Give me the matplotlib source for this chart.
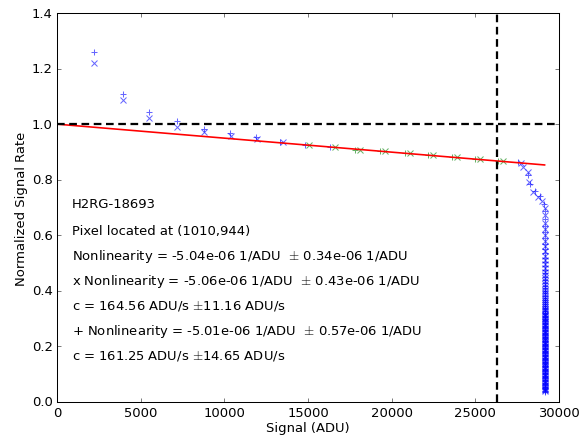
import matplotlib
matplotlib.use("Agg")
import matplotlib.pyplot as plt

plt.style.use("classic")
plt.rcParams["lines.scale_dashes"] = False

# Pixel ramp: "x" series (signal in ADU, normalized signal rate)
x_signal = [2211, 3927, 5517, 7155, 8785, 10381, 11970, 13488, 15078, 16614,
            18108, 19602, 21096, 22453, 23887, 25279, 26672, 27729, 27878,
            28147, 28207, 28446, 28745, 28984]
x_rate = [1.219, 1.088, 1.022, 0.988, 0.973, 0.958, 0.946, 0.935, 0.926, 0.917,
          0.908, 0.902, 0.896, 0.890, 0.881, 0.874, 0.866, 0.860, 0.845,
          0.828, 0.792, 0.756, 0.738, 0.723]

# "+" series
p_signal = [2211, 3927, 5517, 7155, 8785, 10341, 11893, 13327, 14821, 16315,
            17809, 19303, 20797, 22190, 23588, 24980, 26373, 27532, 28147,
            28267, 28566, 28865, 29104]
p_rate = [1.258, 1.108, 1.042, 1.010, 0.982, 0.967, 0.952, 0.936, 0.926, 0.917,
          0.908, 0.902, 0.896, 0.890, 0.881, 0.874, 0.866, 0.862, 0.818,
          0.785, 0.759, 0.741, 0.714]

# Saturated reads: signal stays at the full-well level while the rate falls
sat_signal = 29140
x_sat_rate = [0.700, 0.672, 0.646, 0.622, 0.600, 0.580, 0.561, 0.543, 0.526,
              0.511, 0.496, 0.482, 0.469, 0.457, 0.445, 0.434, 0.424, 0.414,
              0.404, 0.395, 0.387, 0.379, 0.371, 0.363, 0.356, 0.349, 0.343,
              0.336, 0.330, 0.324, 0.318, 0.313, 0.308, 0.302, 0.297, 0.292,
              0.287, 0.282, 0.277, 0.272, 0.267, 0.262, 0.257, 0.252, 0.247,
              0.242, 0.237, 0.232, 0.227, 0.222, 0.217, 0.212, 0.207, 0.202,
              0.197, 0.192, 0.187, 0.182, 0.177, 0.172, 0.167, 0.162, 0.157,
              0.152, 0.147, 0.142, 0.137, 0.132, 0.127, 0.122, 0.117, 0.112,
              0.107, 0.102, 0.097, 0.092, 0.087, 0.082, 0.077, 0.072, 0.067,
              0.062, 0.057, 0.052, 0.047, 0.042, 0.038]
p_sat_rate = [0.686, 0.659, 0.634, 0.611, 0.590, 0.570, 0.552, 0.535, 0.519,
              0.503, 0.489, 0.476, 0.463, 0.451, 0.440, 0.429, 0.419, 0.409,
              0.400, 0.391, 0.383, 0.375, 0.367, 0.360, 0.353, 0.346, 0.340,
              0.333, 0.327, 0.321, 0.316, 0.310, 0.305, 0.300, 0.295, 0.290,
              0.285, 0.280, 0.275, 0.270, 0.265, 0.260, 0.255, 0.250, 0.245,
              0.240, 0.235, 0.230, 0.225, 0.220, 0.215, 0.210, 0.205, 0.200,
              0.195, 0.190, 0.185, 0.180, 0.175, 0.170, 0.165, 0.160, 0.155,
              0.150, 0.145, 0.140, 0.135, 0.130, 0.125, 0.120, 0.115, 0.110,
              0.105, 0.100, 0.095, 0.090, 0.085, 0.080, 0.075, 0.070, 0.065,
              0.060, 0.055, 0.050, 0.045, 0.040, 0.036]

# Reads used in the linearity fit (index ranges into the ramp lists)
x_fit = (8, 17)
p_fit = (10, 17)

nonlinearity = -5.04e-06
fit_end_signal = 29140
saturation_limit = 26313

label_lines = [
    "H2RG-18693",
    "Pixel located at (1010,944)",
    "Nonlinearity = -5.04e-06 1/ADU  $\\pm$ 0.34e-06 1/ADU",
    "x Nonlinearity = -5.06e-06 1/ADU  $\\pm$ 0.43e-06 1/ADU",
    "c = 164.56 ADU/s $\\pm$11.16 ADU/s",
    "+ Nonlinearity = -5.01e-06 1/ADU  $\\pm$ 0.57e-06 1/ADU",
    "c = 161.25 ADU/s $\\pm$14.65 ADU/s",
]
label_y = [0.716, 0.619, 0.529, 0.439, 0.349, 0.259, 0.169]

fs = 12.8

fig = plt.figure(figsize=(8, 442 / 73.5), dpi=73.5, facecolor="white")
ax = fig.add_axes([57 / 588, 39 / 442, 502 / 588, 389 / 442])

blue = "b"
green = (0.0, 0.5, 0.0)
alpha = 0.6
ms = 6.5


def split(sig, rate, fit):
    a, b = fit
    inside = (sig[a:b], rate[a:b])
    outside = (sig[:a] + sig[b:], rate[:a] + rate[b:])
    return inside, outside


(xi, xo) = split(x_signal, x_rate, x_fit)
(pi, po) = split(p_signal, p_rate, p_fit)

ax.plot(xo[0] + [sat_signal] * len(x_sat_rate), xo[1] + x_sat_rate,
        linestyle="none", marker="x", ms=ms, color=blue, alpha=alpha, mew=1)
ax.plot(po[0] + [sat_signal] * len(p_sat_rate), po[1] + p_sat_rate,
        linestyle="none", marker="+", ms=ms, color=blue, alpha=alpha, mew=1)
ax.plot(xi[0], xi[1], linestyle="none", marker="x", ms=ms, color=green,
        alpha=alpha, mew=1)
ax.plot(pi[0], pi[1], linestyle="none", marker="+", ms=ms, color=green,
        alpha=alpha, mew=1)

ax.plot([0, fit_end_signal], [1.0, 1.0 + nonlinearity * fit_end_signal],
        color="r", lw=1.6)

ax.axhline(1.0, color="k", lw=2.2, ls="--", dashes=(7.5, 4.5))
ax.axvline(saturation_limit, color="k", lw=2.2, ls="--", dashes=(7.5, 4.5))

for txt, y in zip(label_lines, label_y):
    ax.text(900, y, txt, fontsize=fs, va="center", ha="left")

ax.set_xlim(0, 30000)
ax.set_ylim(0.0, 1.4)
ax.set_xticks(range(0, 30001, 5000))
ax.set_yticks([0.0, 0.2, 0.4, 0.6, 0.8, 1.0, 1.2, 1.4])
ax.set_xlabel("Signal (ADU)", fontsize=fs, labelpad=2)
ax.set_ylabel("Normalized Signal Rate", fontsize=fs, labelpad=4)
ax.tick_params(labelsize=fs)

fig.savefig("out.png", dpi=73.5, facecolor="white")
